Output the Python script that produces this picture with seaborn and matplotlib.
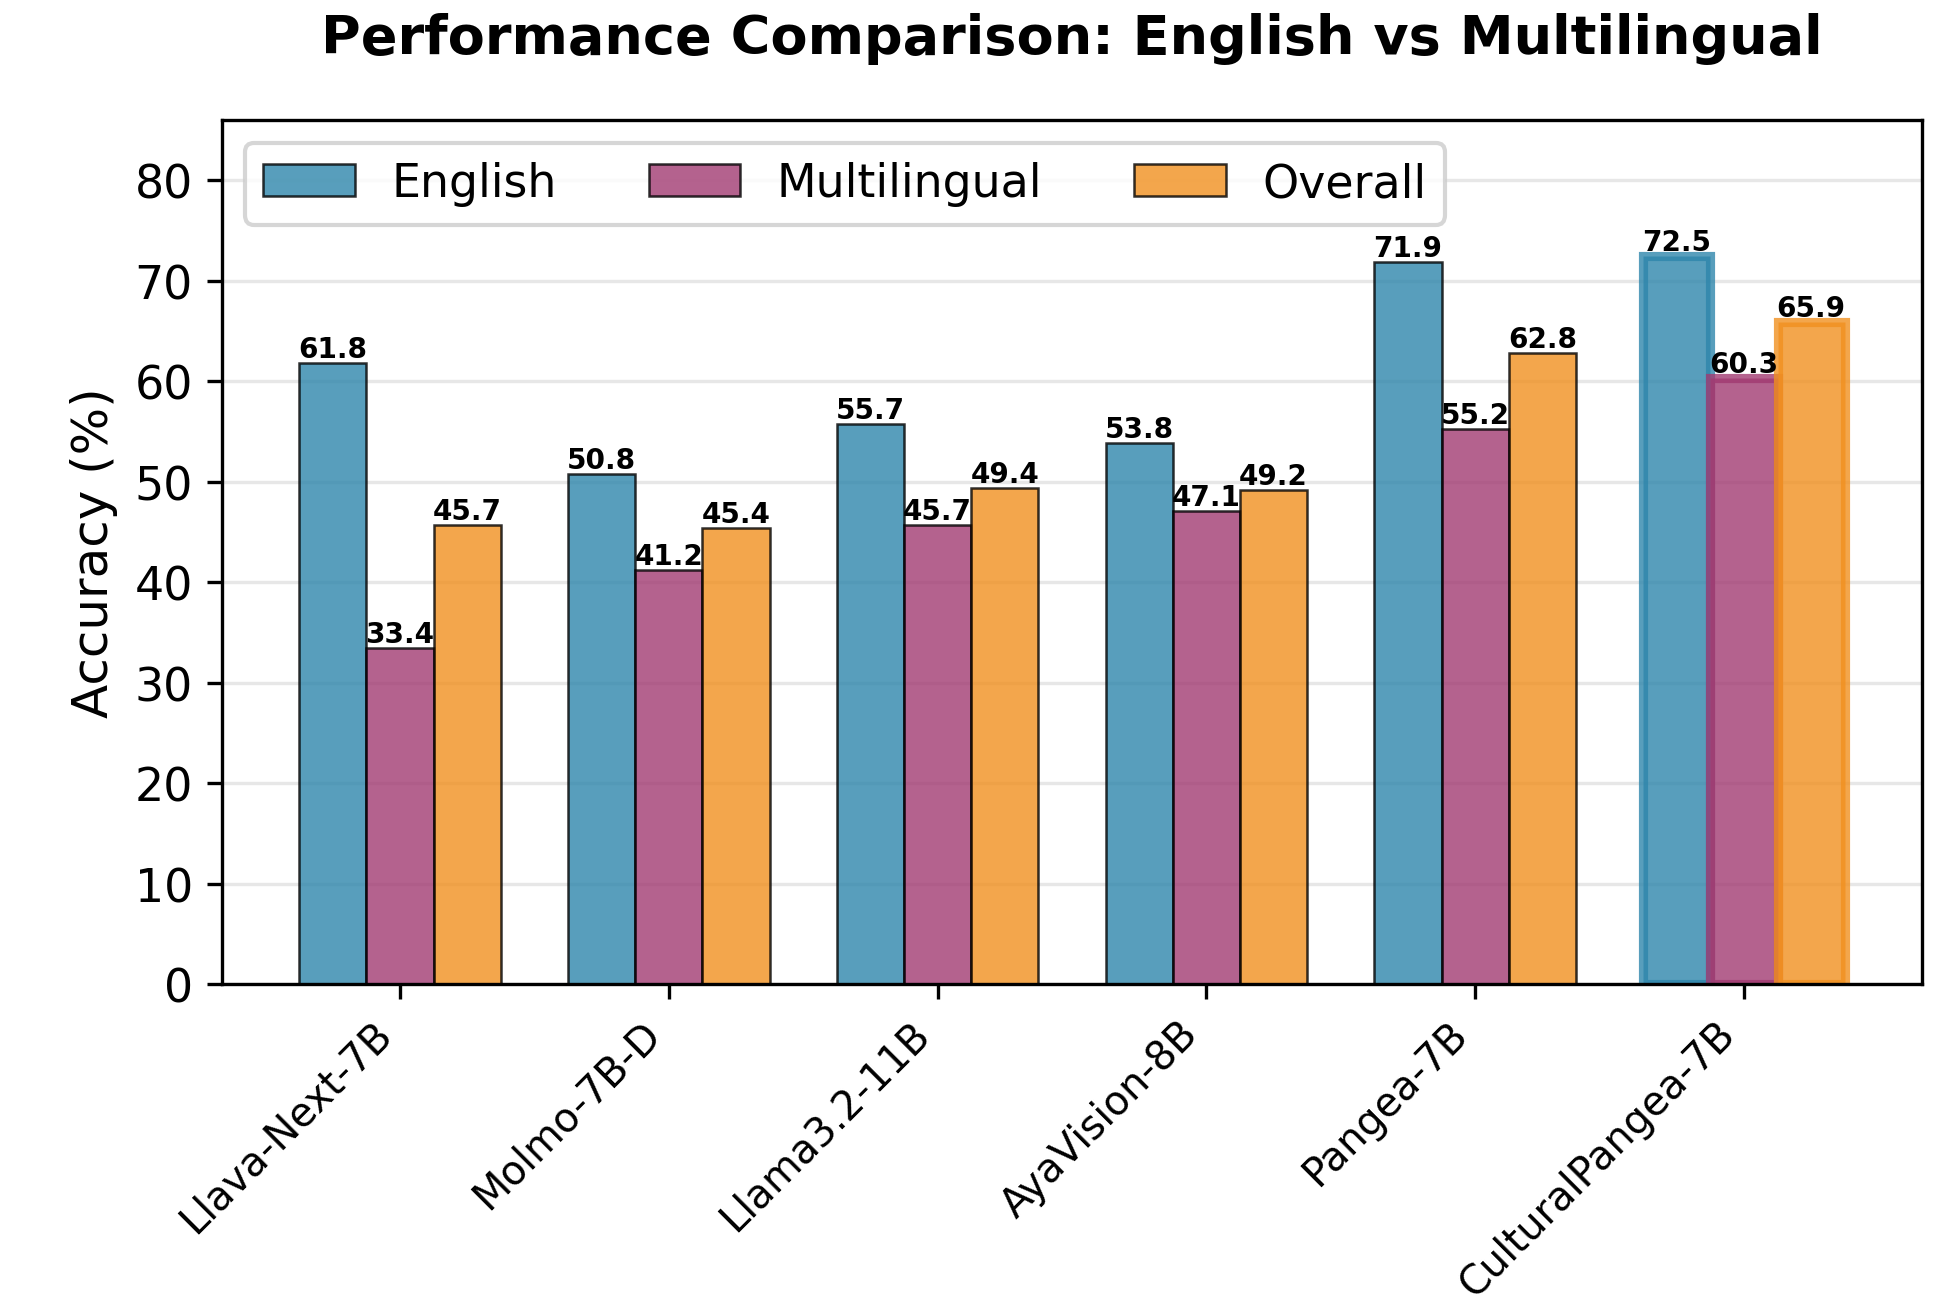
import pandas as pd
import numpy as np
import matplotlib.pyplot as plt
import seaborn as sns

models = ["Llava-Next-7B", "Molmo-7B-D", "Llama3.2-11B", "AyaVision-8B", "Pangea-7B", "CulturalPangea-7B"]
english = [61.8, 50.8, 55.7, 53.8, 71.9, 72.5]
multilingual = [33.4, 41.2, 45.7, 47.1, 55.2, 60.3]
overall = [45.7, 45.4, 49.4, 49.2, 62.8, 65.9]
metrics = ["English", "Multilingual", "Overall"]
colors = ["#2E86AB", "#A23B72", "#F1901F"]

df = pd.DataFrame({"model": models * 3,
                   "metric": np.repeat(metrics, len(models)),
                   "accuracy": english + multilingual + overall})

fig = plt.figure(figsize=(1942 / 300, 1310 / 300), dpi=300)
ax = fig.add_axes([222 / 1942, 1 - 985 / 1310, 1700 / 1942, 864 / 1310])

sns.barplot(data=df, x="model", y="accuracy", hue="metric", palette=colors,
            saturation=1, width=0.75, alpha=0.8, edgecolor="black", linewidth=0.6,
            errorbar=None, ax=ax)

ax.get_legend().remove()
handles = [c.patches[0] for c in ax.containers]
ax.legend(handles, metrics, ncol=3, loc="upper left", fontsize=11)

for c in ax.containers:
    ax.bar_label(c, fmt="%.1f", fontsize=6.7, fontweight="bold", padding=0)

# highlight the last model
for c, col in zip(ax.containers, colors):
    p = c.patches[-1]
    p.set_edgecolor(col)
    p.set_linewidth(2.2)

ax.set_xlim(-0.6625, len(models) - 1 + 0.6625)
ax.set_ylim(0, 86)
ax.set_xlabel("")
ax.set_ylabel("Accuracy (%)", fontsize=12)
ax.set_title("Performance Comparison: English vs Multilingual", fontsize=13, fontweight="bold", pad=16)
ax.tick_params(axis="y", labelsize=11)
ax.tick_params(axis="x", labelsize=9.6)
plt.setp(ax.get_xticklabels(), rotation=45, ha="right")
ax.grid(axis="y", alpha=0.3)
ax.set_axisbelow(True)

fig.savefig("out.png", dpi=300)
